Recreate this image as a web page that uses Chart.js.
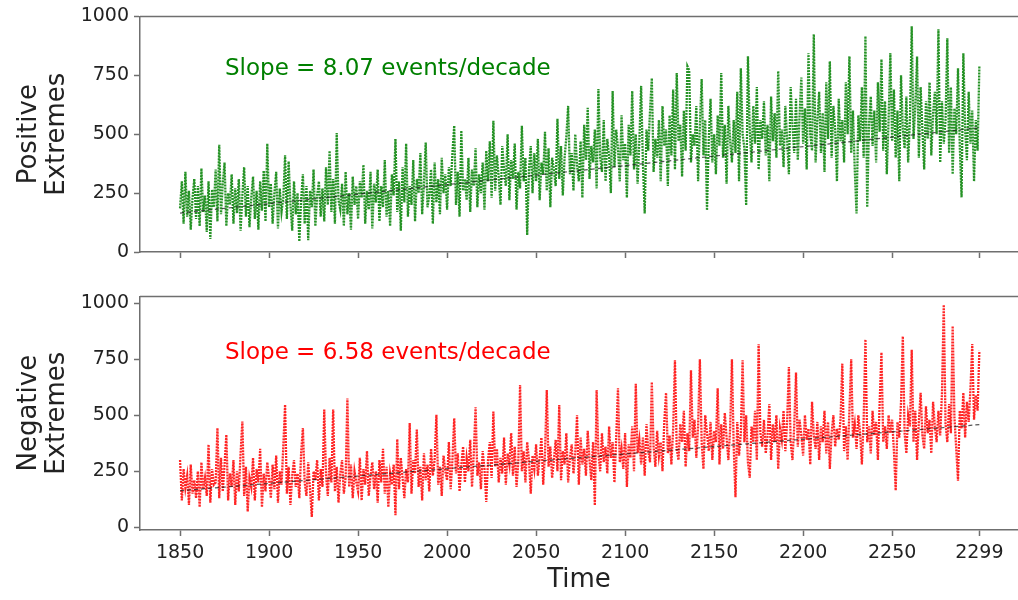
<!DOCTYPE html>
<html lang="en">
<head>
    <meta charset="UTF-8">
    <title>Positive and Negative Extremes</title>
    <script src="https://cdn.jsdelivr.net/npm/chart.js"></script>
    <style>
        body {
            margin: 0;
            background: #fff;
            font-family: 'DejaVu Sans', sans-serif;
        }
        .panel {
            position: absolute;
            left: 0;
        }
        .slope {
            position: absolute;
            left: 225px;
            font-size: 23px;
            white-space: nowrap;
        }
    </style>
</head>
<body>
    <div class="panel" style="top:0"><canvas id="posChart" width="1018" height="280"></canvas></div>
    <div class="panel" style="top:280px"><canvas id="negChart" width="1018" height="320"></canvas></div>
    <div class="slope" style="top:54px; color:#008000">Slope = 8.07 events/decade</div>
    <div class="slope" style="top:338px; color:#ff0000">Slope = 6.58 events/decade</div>

    <script>
        const firstYear = 1850;
        const lastYear = 2299;
        const tickYears = [1850, 1900, 1950, 2000, 2050, 2100, 2150, 2200, 2250, 2299];
        const valueTicks = [0, 250, 500, 750, 1000];

        // yearly counts of positive extremes, one row per decade
        const positiveExtremes = [
            185, 300, 120, 340, 150, 260, 95, 230, 310, 140,
            280, 110, 355, 170, 240, 85, 300, 55, 265, 190,
            350, 130, 455, 160, 290, 380, 110, 250, 200, 330,
            120, 270, 165, 310, 90, 240, 360, 150, 280, 105,
            230, 320, 140, 260, 95, 300, 175, 345, 130, 460,
            190, 290, 120, 250, 340, 100, 270, 170, 230, 410,
            140, 385, 200, 90, 300, 160, 250, 45, 220, 330,
            120, 280, 50, 260, 190, 350, 110, 240, 300, 150,
            270, 130, 360, 200, 430, 170, 310, 120, 505, 220,
            180, 290, 110, 340, 160, 250, 95, 320, 200, 280,
            140, 300, 230, 370, 120, 260, 180, 340, 100, 290,
            210, 350, 130, 280, 190, 390, 150, 260, 110, 330,
            240, 480, 170, 300, 90, 360, 210, 460, 150, 280,
            200, 390, 130, 310, 250, 420, 160, 290, 465, 190,
            240, 350, 120, 380, 210, 310, 160, 400, 250, 330,
            180, 360, 280, 420, 536, 200, 340, 150, 515, 260,
            310, 220, 400, 170, 350, 280, 440, 190, 330, 250,
            380, 180, 430, 300, 470, 230, 557, 260, 410, 320,
            200, 450, 350, 280, 500, 220, 390, 310, 460, 180,
            340, 270, 536, 300, 400, 72, 350, 450, 250, 420,
            300, 480, 220, 380, 330, 510, 260, 440, 190, 400,
            350, 280, 565, 310, 450, 240, 400, 490, 620, 330,
            420, 260, 500, 370, 300, 470, 230, 540, 390, 612,
            310, 450, 380, 520, 270, 692, 400, 340, 560, 300,
            480, 410, 250, 683, 360, 520, 440, 300, 580, 390,
            460, 230, 540, 410, 683, 350, 500, 290, 470, 705,
            380, 164, 520, 430, 600, 738, 340, 480, 400, 560,
            300, 620, 450, 520, 280, 580, 410, 690, 350, 760,
            470, 540, 320, 600, 430, 789, 772, 380, 500, 450,
            620, 300, 540, 734, 410, 560, 177, 480, 650, 380,
            500, 330, 580, 450, 760, 400, 540, 290, 620, 470,
            380, 560, 420, 680, 300, 780, 500, 440, 198, 831,
            520, 380, 620, 460, 700, 350, 560, 480, 640, 410,
            540, 300, 660, 470, 590, 400, 768, 450, 520, 360,
            620, 480, 330, 700, 540, 420, 650, 390, 580, 740,
            460, 610, 350, 844, 500, 430, 924, 380, 560, 680,
            420, 590, 340, 720, 480, 810, 400, 620, 520, 300,
            650, 470, 560, 380, 720, 500, 831, 420, 600, 350,
            164, 580, 470, 700, 400, 916, 190, 540, 660, 450,
            600, 380, 720, 510, 818, 430, 640, 330, 560, 844,
            470, 690, 400, 600, 300, 750, 520, 440, 660, 380,
            560, 958, 480, 620, 830, 400, 700, 520, 350, 640,
            480, 720, 410, 590, 680, 500, 945, 380, 640, 460,
            560, 907, 420, 700, 330, 610, 500, 780, 450, 232,
            844, 520, 390, 680, 460, 600, 300, 560, 430, 789
        ];

        // yearly counts of negative extremes, one row per decade
        const negativeExtremes = [
            300, 120, 260, 175, 230, 100, 280, 150, 210, 130,
            250, 90, 290, 170, 220, 140, 369, 110, 260, 190,
            200, 443, 130, 310, 160, 280, 413, 120, 240, 180,
            300, 100, 250, 160, 330, 472, 140, 270, 70, 220,
            180, 310, 120, 260, 200, 350, 90, 240, 160, 290,
            220, 130, 280, 170, 320, 110, 250, 190, 360, 547,
            150, 270, 100, 230, 300, 180, 240, 130, 330, 443,
            200, 140, 290, 170, 46, 250, 210, 300, 120, 260,
            180, 525, 230, 140, 310, 200, 525, 160, 270, 110,
            240, 300, 150, 220, 575, 180, 280, 130, 250, 200,
            160, 310, 120, 260, 190, 340, 140, 230, 290, 170,
            250, 110, 300, 200, 350, 150, 270, 90, 240, 190,
            280, 54, 393, 170, 310, 220, 130, 260, 200, 465,
            150, 300, 240, 436, 180, 270, 120, 330, 210, 280,
            160, 350, 230, 300, 502, 190, 270, 140, 320, 250,
            210, 380, 170, 300, 486, 240, 330, 160, 280, 360,
            200, 310, 250, 390, 180, 330, 535, 230, 290, 170,
            340, 260, 113, 300, 380, 220, 516, 270, 350, 200,
            310, 240, 400, 190, 330, 280, 420, 230, 360, 180,
            290, 635, 250, 340, 200, 380, 300, 150, 320, 260,
            370, 230, 310, 400, 190, 330, 612, 270, 360, 220,
            300, 390, 250, 545, 210, 340, 280, 420, 200, 310,
            370, 240, 330, 500, 190, 400, 280, 350, 230, 430,
            300, 210, 380, 98, 612, 330, 250, 420, 290, 360,
            240, 450, 310, 380, 200, 400, 620, 290, 350, 260,
            420, 180, 370, 310, 450, 250, 640, 330, 390, 280,
            400, 230, 460, 340, 290, 648, 360, 270, 430, 320,
            380, 250, 470, 600, 330, 410, 280, 440, 745, 350,
            300, 460, 380, 520, 270, 420, 340, 700, 400, 480,
            310, 450, 750, 380, 260, 500, 420, 340, 470, 300,
            430, 380, 620, 280, 460, 350, 510, 400, 300, 440,
            750, 360, 134, 470, 320, 420, 745, 380, 500, 290,
            221, 450, 380, 520, 300, 817, 420, 360, 480, 330,
            410, 550, 300, 460, 380, 500, 260, 440, 390, 520,
            340, 470, 715, 380, 300, 450, 690, 360, 480, 410,
            320, 500, 390, 440, 280, 560, 410, 350, 470, 300,
            450, 380, 520, 330, 470, 260, 420, 500, 360, 440,
            390, 480, 730, 340, 450, 300, 520, 750, 400, 460,
            350, 500, 420, 280, 480, 838, 380, 450, 330, 520,
            410, 470, 300, 560, 780, 380, 450, 350, 500, 420,
            480, 340, 164, 470, 400, 560, 852, 420, 330, 500,
            450, 792, 380, 520, 300, 470, 600, 410, 350, 540,
            420, 480, 330, 560, 450, 380, 520, 410, 600, 993,
            460, 380, 550, 420, 898, 490, 350, 208, 520, 440,
            600, 400, 560, 470, 620, 817, 480, 590, 520, 787
        ];

        // linear fits (end points)
        const trendYears = [1850, 2299];
        const positiveTrend = [165, 527];
        const negativeTrend = [163, 458];

        const years = [];
        for (let y = firstYear; y <= lastYear; y++) years.push(y);

        const toPoints = (xs, ys) => xs.map((x, i) => ({ x: x, y: ys[i] }));

        const axisColor = '#6f6f6f';
        const font = 'DejaVu Sans';

        // matplotlib-like top spine
        const topSpine = {
            id: 'topSpine',
            afterDraw(chart) {
                const a = chart.chartArea;
                const ctx = chart.ctx;
                ctx.save();
                ctx.strokeStyle = axisColor;
                ctx.lineWidth = 1.5;
                ctx.beginPath();
                ctx.moveTo(a.left, a.top);
                ctx.lineTo(a.right + 5, a.top);
                ctx.stroke();
                ctx.restore();
            }
        };

        function makePanel(canvasId, values, trend, color, title, yMin, yMax, areaTop, xHeight, showX) {
            const ctx = document.getElementById(canvasId).getContext('2d');
            return new Chart(ctx, {
                type: 'line',
                data: {
                    datasets: [{
                        data: toPoints(trendYears, trend),
                        borderColor: 'rgba(30,30,30,0.75)',
                        borderWidth: 1.2,
                        borderDash: [4, 3],
                        pointRadius: 0,
                        order: 0
                    }, {
                        data: toPoints(years, values),
                        borderColor: color,
                        borderWidth: 2.3,
                        borderDash: [2, 1],
                        pointRadius: 0,
                        order: 1
                    }]
                },
                options: {
                    responsive: false,
                    animation: false,
                    devicePixelRatio: 1,
                    layout: { padding: { top: areaTop, left: 0, right: 0, bottom: 0 } },
                    plugins: { legend: { display: false }, tooltip: { enabled: false } },
                    scales: {
                        x: {
                            type: 'linear',
                            min: 1827.5,
                            max: 2320.7,
                            afterBuildTicks: s => { s.ticks = tickYears.map(v => ({ value: v })); },
                            afterFit: s => { s.height = xHeight; },
                            grid: { drawOnChartArea: false, tickLength: 6, tickColor: axisColor, tickWidth: 1.5 },
                            border: { color: axisColor, width: 1.5 },
                            ticks: {
                                autoSkip: false,
                                maxRotation: 0,
                                padding: 6,
                                color: '#222',
                                font: { family: font, size: 19 },
                                callback: v => showX ? String(v) : ''
                            },
                            title: {
                                display: showX,
                                text: 'Time',
                                color: '#222',
                                padding: { top: 6 },
                                font: { family: font, size: 26 }
                            }
                        },
                        y: {
                            min: yMin,
                            max: yMax,
                            afterBuildTicks: s => { s.ticks = valueTicks.map(v => ({ value: v })); },
                            afterFit: s => { s.width = 140; },
                            grid: { drawOnChartArea: false, tickLength: 6, tickColor: axisColor, tickWidth: 1.5 },
                            border: { color: axisColor, width: 1.5 },
                            ticks: {
                                padding: 5,
                                color: '#222',
                                font: { family: font, size: 19 },
                                callback: v => String(v)
                            },
                            title: {
                                display: true,
                                text: title,
                                color: '#222',
                                padding: { top: 16 },
                                font: { family: font, size: 26, lineHeight: 1.05 }
                            }
                        }
                    }
                },
                plugins: [topSpine]
            });
        }

        makePanel('posChart', positiveExtremes, positiveTrend, 'rgba(0,128,0,0.85)',
            ['Positive', 'Extremes'], 0, 1000, 15, 28, false);
        makePanel('negChart', negativeExtremes, negativeTrend, 'rgba(255,0,0,0.85)',
            ['Negative', 'Extremes'], -12, 1030, 13, 70, true);
    </script>
</body>
</html>
